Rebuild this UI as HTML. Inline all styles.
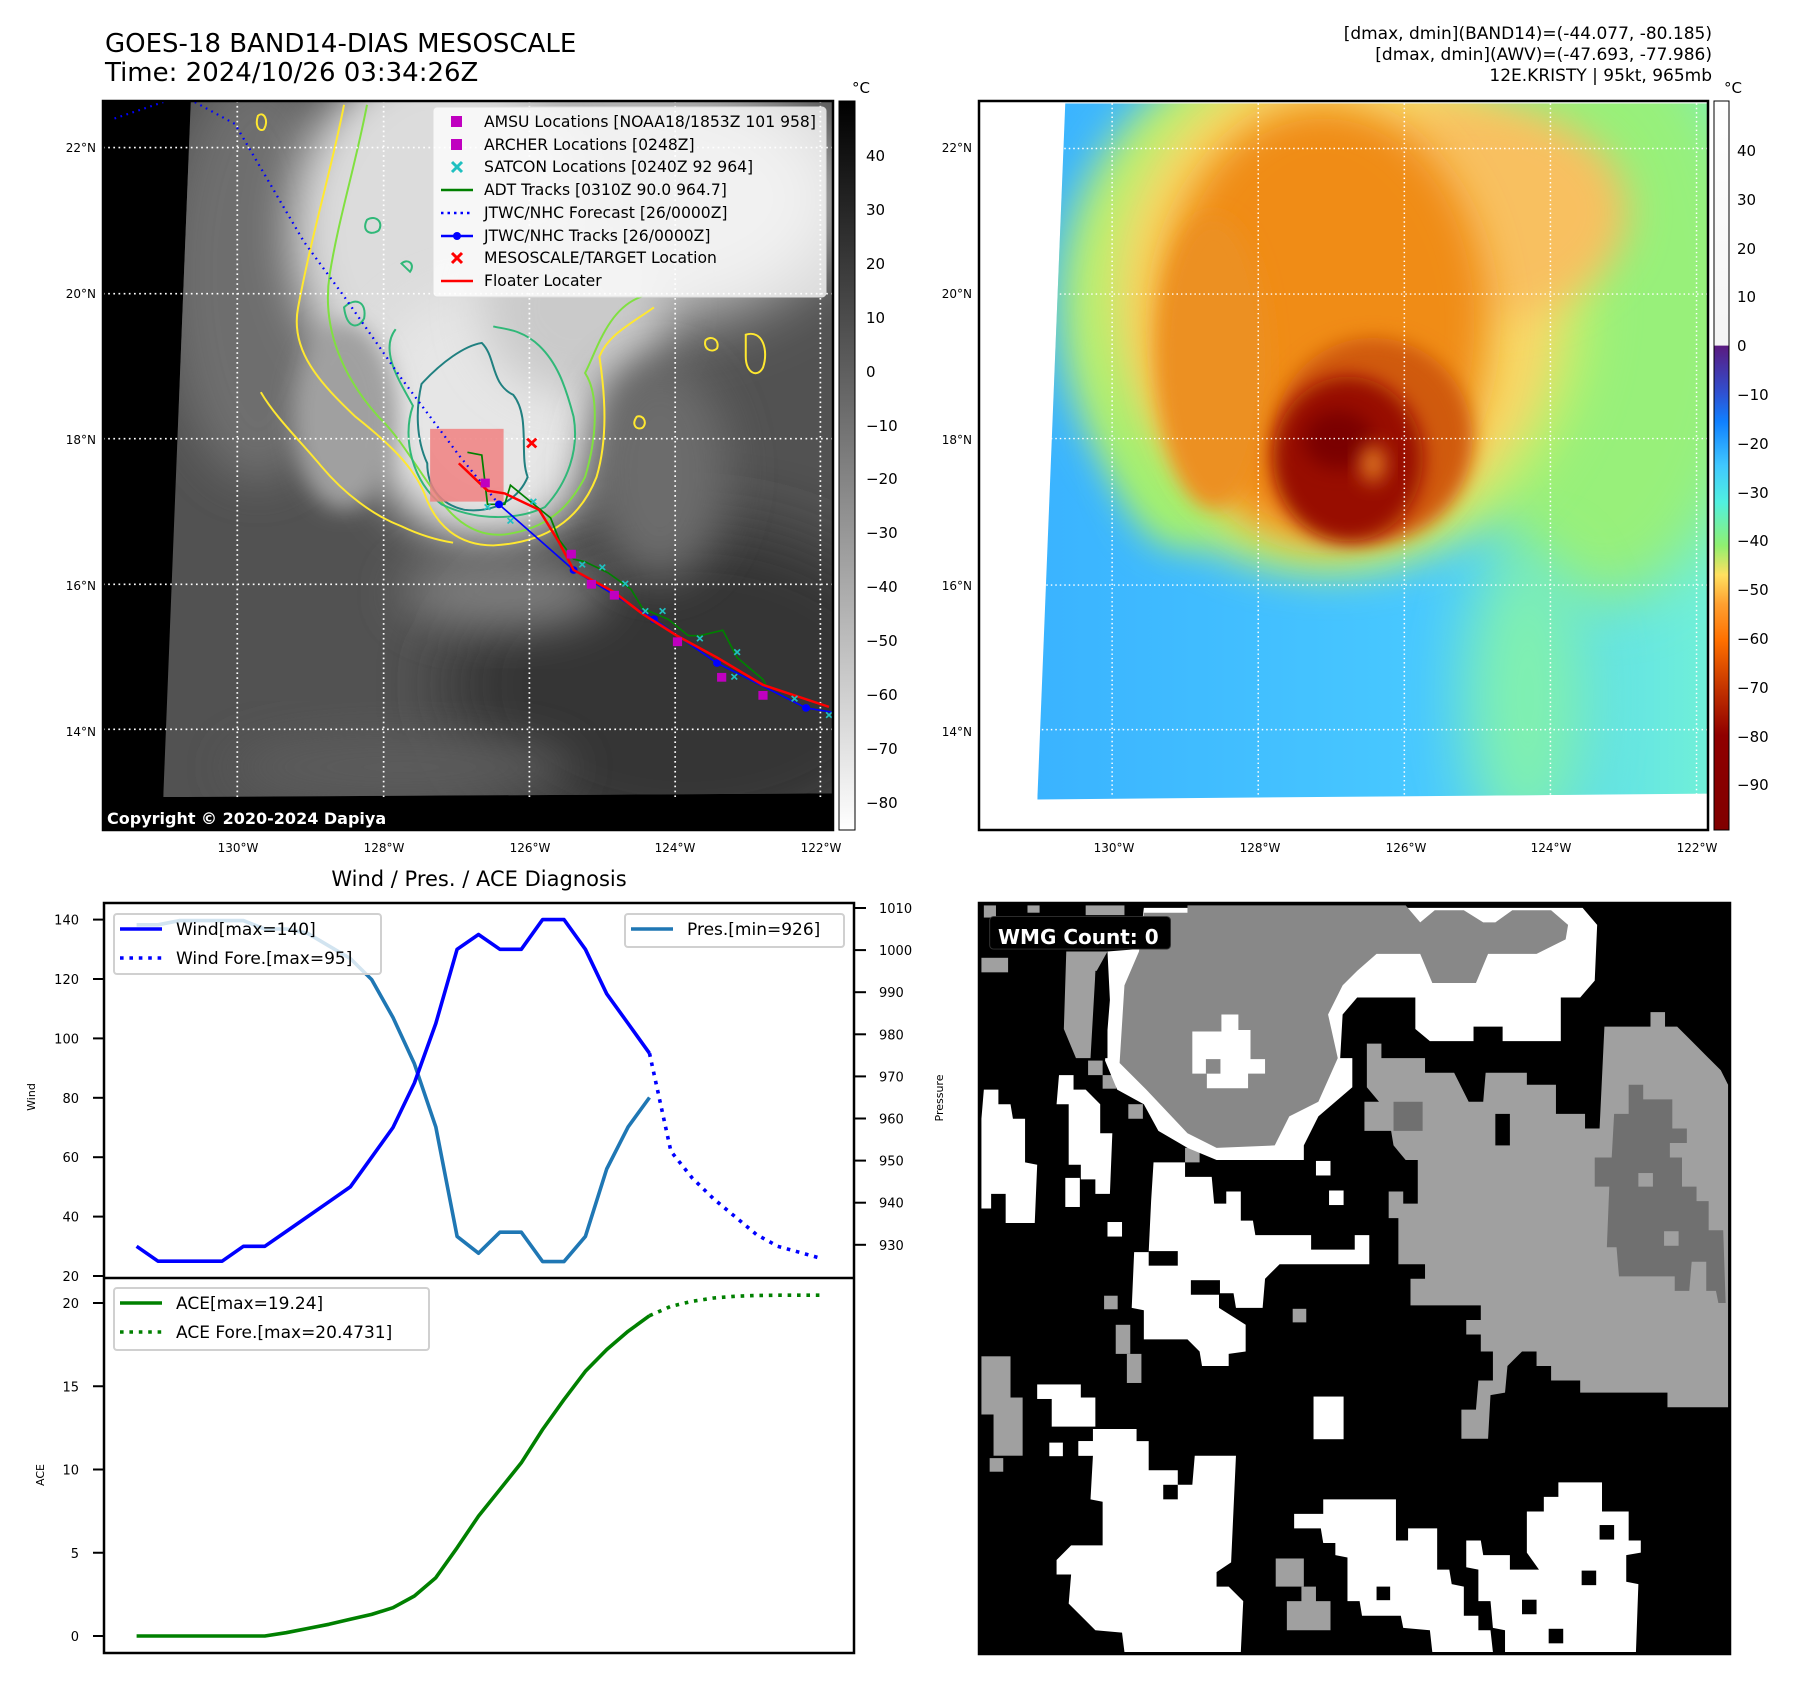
<!DOCTYPE html>
<html><head><meta charset="utf-8"><style>
html,body{margin:0;padding:0;background:#fff;}
svg text{font-family:"DejaVu Sans","Liberation Sans",sans-serif;}
</style></head><body>
<svg id="root" width="1797" height="1690" viewBox="0 0 1797 1690" xmlns="http://www.w3.org/2000/svg">
<defs>
<filter id="b20" x="-50%" y="-50%" width="200%" height="200%"><feGaussianBlur stdDeviation="20"/></filter>
<filter id="b40" x="-50%" y="-50%" width="200%" height="200%"><feGaussianBlur stdDeviation="40"/></filter>
<filter id="b60" x="-50%" y="-50%" width="200%" height="200%"><feGaussianBlur stdDeviation="60"/></filter>
<linearGradient id="gcb" x1="0" y1="0" x2="0" y2="1"><stop offset="0" stop-color="#000"/><stop offset="1" stop-color="#fff"/></linearGradient>
<linearGradient id="ccb" x1="0" y1="0" x2="0" y2="1">
<stop offset="0" stop-color="#fff"/><stop offset="0.335" stop-color="#f4f4f4"/>
<stop offset="0.336" stop-color="#5a1a80"/><stop offset="0.40" stop-color="#3050d0"/>
<stop offset="0.44" stop-color="#1080ff"/><stop offset="0.50" stop-color="#40c8ff"/>
<stop offset="0.55" stop-color="#50f0e0"/><stop offset="0.61" stop-color="#90f070"/>
<stop offset="0.65" stop-color="#ffe060"/><stop offset="0.69" stop-color="#ffa030"/>
<stop offset="0.74" stop-color="#ff7000"/><stop offset="0.81" stop-color="#c03000"/>
<stop offset="0.87" stop-color="#900000"/><stop offset="1" stop-color="#800000"/></linearGradient>
<linearGradient id="rbase" x1="0" y1="0" x2="1" y2="0"><stop offset="0" stop-color="#38b0ff"/><stop offset="0.6" stop-color="#48c8ff"/><stop offset="1" stop-color="#70f0d8"/></linearGradient>
</defs>

<text x="105" y="52" font-size="26" fill="#000">GOES-18 BAND14-DIAS MESOSCALE</text>
<text x="105" y="81" font-size="26" fill="#000">Time: 2024/10/26 03:34:26Z</text>
<g font-size="17" text-anchor="end" fill="#000">
<text x="1712" y="39">[dmax, dmin](BAND14)=(-44.077, -80.185)</text>
<text x="1712" y="60">[dmax, dmin](AWV)=(-47.693, -77.986)</text>
<text x="1712" y="81">12E.KRISTY | 95kt, 965mb</text>
</g>

<!-- LEFT MAP -->
<g>
<rect x="103" y="101" width="730" height="729" fill="#000"/>
<svg x="103" y="101" width="730" height="729" viewBox="180 183 1272 1332" preserveAspectRatio="none">
<clipPath id="lclip"><polygon points="333,183 285,1455 1452,1448 1452,183"/></clipPath>
<g clip-path="url(#lclip)">
<rect x="180" y="183" width="1272" height="1332" fill="#525252"/>
<ellipse cx="1200" cy="1250" rx="420" ry="300" fill="#363636" filter="url(#b60)"/>
<ellipse cx="450" cy="500" rx="160" ry="380" fill="#6e6e6e" filter="url(#b40)"/>
<ellipse cx="1050" cy="360" rx="420" ry="240" fill="#c0c0c0" filter="url(#b60)"/>
<ellipse cx="760" cy="420" rx="250" ry="320" fill="#dcdcdc" filter="url(#b40)"/>
<ellipse cx="850" cy="760" rx="210" ry="230" fill="#e6e6e6" filter="url(#b40)"/>
<ellipse cx="1000" cy="560" rx="160" ry="160" fill="#cacaca" filter="url(#b40)"/>
<ellipse cx="600" cy="760" rx="90" ry="170" fill="#a0a0a0" filter="url(#b20)"/>
<ellipse cx="880" cy="1080" rx="180" ry="70" fill="#7c7c7c" filter="url(#b40)"/>
<ellipse cx="1150" cy="860" rx="120" ry="200" fill="#6c6c6c" filter="url(#b40)"/>
<ellipse cx="700" cy="1400" rx="300" ry="60" fill="#5c5c5c" filter="url(#b40)"/>
</g>
<g fill="none" stroke-width="3.5">
<path d="M600,190 C580,300 545,420 520,560 C505,640 560,700 620,760 C680,810 720,850 740,900 C760,960 800,995 860,995 C950,990 1010,950 1040,870 C1060,800 1055,720 1045,650 C1060,610 1100,590 1140,560" stroke="#ffe830"/>
<path d="M455,715 C480,760 520,800 560,850 C600,900 650,940 700,960 C730,975 760,985 790,990" stroke="#ffe830"/>
<path d="M1300,610 C1330,600 1340,640 1330,670 C1320,690 1300,680 1300,650 Z M1230,620 c10,-10 25,0 20,15 c-10,10 -25,0 -20,-15Z M1110,760 c10,-5 20,10 10,20 c-10,5 -20,-5 -10,-20Z M450,210 c10,-10 20,10 10,25 c-10,5 -15,-10 -10,-25Z" stroke="#ffe830"/>
<path d="M640,190 C620,300 590,400 575,500 C560,600 600,690 660,760 C700,800 730,860 760,900 C790,950 830,980 880,975 C950,965 990,930 1020,870 C1040,800 1045,720 1020,680 C1040,640 1060,560 1120,540" stroke="#80e040"/>
<path d="M690,600 C660,640 700,700 720,740 C700,800 720,880 770,920 C830,950 900,950 950,925 C990,880 1010,820 1000,760 C985,700 970,660 940,630 C910,600 880,600 860,595" stroke="#30b878"/>
<path d="M735,700 C770,660 810,630 840,625 C865,650 855,700 895,720 C925,760 905,830 920,870 C900,920 850,935 810,930 C765,920 745,885 745,845 C725,800 725,745 735,700 Z" stroke="#208080"/>
<path d="M600,560 c20,-20 40,-10 35,20 c-10,20 -30,20 -35,-20Z M640,400 c15,-10 30,5 20,20 c-15,10 -30,0 -20,-20Z M700,480 c10,-10 25,0 15,15Z" stroke="#30b878"/>
</g>
<g stroke="#fff" stroke-width="3" stroke-dasharray="3,6">
<line x1="180" x2="1452" y1="268" y2="268"/><line x1="180" x2="1452" y1="535" y2="535"/><line x1="180" x2="1452" y1="800" y2="800"/><line x1="180" x2="1452" y1="1066" y2="1066"/><line x1="180" x2="1452" y1="1331" y2="1331"/>
<line y1="183" y2="1515" x1="414" x2="414"/><line y1="183" y2="1515" x1="669" x2="669"/><line y1="183" y2="1515" x1="923" x2="923"/><line y1="183" y2="1515" x1="1177" x2="1177"/><line y1="183" y2="1515" x1="1430" x2="1430"/>
</g>
<rect x="750" y="782" width="128" height="133" fill="#f08080" opacity="0.85"/>
<path d="M200,215 L285,185 M340,185 L410,225 L530,440 L600,540 L700,690 L800,830 L870,920" fill="none" stroke="#0000ff" stroke-width="4" stroke-dasharray="3,8"/>
<path d="M815,825 L840,830 L850,920 L880,920 L890,885 L960,945 L975,985 L1000,1020 L1020,1025 L1060,1045 L1100,1075 L1120,1110 L1165,1130 L1200,1160 L1220,1160 L1260,1150 L1285,1200 L1330,1240 L1340,1260" fill="none" stroke="#008000" stroke-width="3"/>
<path d="M870,920 L1000,1040 L1140,1130 L1250,1210 L1405,1292 L1452,1300" fill="none" stroke="#0000ff" stroke-width="3"/>
<g fill="#0000ff"><circle cx="870" cy="920" r="7"/><circle cx="1000" cy="1040" r="7"/><circle cx="1140" cy="1130" r="7"/><circle cx="1250" cy="1210" r="7"/><circle cx="1405" cy="1292" r="7"/></g>
<path d="M800,845 L850,895 L880,900 L940,930 L975,990 L1000,1040 L1070,1080 L1120,1120 L1180,1160 L1250,1200 L1330,1250 L1445,1290" fill="none" stroke="#ff0000" stroke-width="4.5"/>
<g fill="#c000c0"><rect x="838" y="873" width="16" height="16"/><rect x="988" y="1003" width="16" height="16"/><rect x="1023" y="1058" width="16" height="16"/><rect x="1063" y="1078" width="16" height="16"/><rect x="1173" y="1163" width="16" height="16"/><rect x="1250" y="1228" width="16" height="16"/><rect x="1322" y="1261" width="16" height="16"/></g>
<g stroke="#20c0c0" stroke-width="3">
<path d="M845,920 l10,10 m0,-10 l-10,10 M885,945 l10,10 m0,-10 l-10,10 M925,910 l10,10 m0,-10 l-10,10 M1010,1025 l10,10 m0,-10 l-10,10 M1045,1030 l10,10 m0,-10 l-10,10 M1085,1060 l10,10 m0,-10 l-10,10 M1120,1110 l10,10 m0,-10 l-10,10 M1150,1110 l10,10 m0,-10 l-10,10 M1215,1160 l10,10 m0,-10 l-10,10 M1275,1230 l10,10 m0,-10 l-10,10 M1280,1185 l10,10 m0,-10 l-10,10 M1380,1270 l10,10 m0,-10 l-10,10 M1440,1300 l10,10 m0,-10 l-10,10"/>
</g>
<path d="M919,800 l16,16 m0,-16 l-16,16" stroke="#ff0000" stroke-width="5"/>
<rect x="180" y="1455" width="1272" height="60" fill="#000"/>
</svg>
<text x="107" y="824" font-size="16" font-weight="bold" fill="#fff">Copyright © 2020-2024 Dapiya</text>
<rect x="103" y="101" width="730" height="729" fill="none" stroke="#000" stroke-width="2.5"/>
<g>
<rect x="433" y="107" width="393" height="190" rx="4" fill="#fff" fill-opacity="0.78" stroke="#ddd"/>
<g font-size="15.6" fill="#000">
<rect x="451" y="116" width="11" height="11" fill="#c000c0"/><text x="484" y="127">AMSU Locations [NOAA18/1853Z 101 958]</text>
<rect x="451" y="139" width="11" height="11" fill="#c000c0"/><text x="484" y="150">ARCHER Locations [0248Z]</text>
<path d="M452,162 l10,10 m0,-10 l-10,10" stroke="#20c0c0" stroke-width="3"/><text x="484" y="172">SATCON Locations [0240Z 92 964]</text>
<line x1="441" x2="473" y1="190" y2="190" stroke="#008000" stroke-width="2.5"/><text x="484" y="195">ADT Tracks [0310Z 90.0 964.7]</text>
<line x1="441" x2="473" y1="213" y2="213" stroke="#0000ff" stroke-width="2.5" stroke-dasharray="2.5,4"/><text x="484" y="218">JTWC/NHC Forecast [26/0000Z]</text>
<line x1="441" x2="473" y1="236" y2="236" stroke="#0000ff" stroke-width="2.5"/><circle cx="457" cy="236" r="4" fill="#0000ff"/><text x="484" y="241">JTWC/NHC Tracks [26/0000Z]</text>
<path d="M452,253 l10,10 m0,-10 l-10,10" stroke="#ff0000" stroke-width="3"/><text x="484" y="263">MESOSCALE/TARGET Location</text>
<line x1="441" x2="473" y1="281" y2="281" stroke="#ff0000" stroke-width="2.5"/><text x="484" y="286">Floater Locater</text>
</g></g>
<g font-size="12" fill="#000" text-anchor="end">
<text x="96" y="152">22°N</text><text x="96" y="298">20°N</text><text x="96" y="444">18°N</text><text x="96" y="590">16°N</text><text x="96" y="736">14°N</text></g>
<g font-size="12" fill="#000" text-anchor="middle">
<text x="238" y="852">130°W</text><text x="384" y="852">128°W</text><text x="530" y="852">126°W</text><text x="675" y="852">124°W</text><text x="821" y="852">122°W</text></g>
<rect x="839" y="101" width="16" height="729" fill="url(#gcb)" stroke="#000" stroke-width="1"/>
<text x="852" y="93" font-size="15">°C</text>
<g font-size="15" fill="#000">
<text x="866" y="161">40</text><text x="866" y="215">30</text><text x="866" y="269">20</text><text x="866" y="323">10</text><text x="866" y="377">0</text><text x="866" y="431">−10</text><text x="866" y="484">−20</text><text x="866" y="538">−30</text><text x="866" y="592">−40</text><text x="866" y="646">−50</text><text x="866" y="700">−60</text><text x="866" y="754">−70</text><text x="866" y="808">−80</text></g>
</g>

<!-- RIGHT MAP -->
<g>
<rect x="979" y="101" width="729" height="729" fill="#fff"/>
<svg x="979" y="101" width="729" height="729" viewBox="0 22 1462 1503" preserveAspectRatio="none">
<clipPath id="rclip"><polygon points="173,27 117,1462 1462,1450 1462,27"/></clipPath>
<g clip-path="url(#rclip)">
<rect x="0" y="0" width="1462" height="1525" fill="url(#rbase)"/>
<ellipse cx="1250" cy="450" rx="320" ry="600" fill="#98f07a" filter="url(#b60)"/>
<ellipse cx="1100" cy="1250" rx="120" ry="300" fill="#80f0b0" filter="url(#b60)"/>
<ellipse cx="700" cy="440" rx="540" ry="560" fill="#b8f070" filter="url(#b40)"/>
<ellipse cx="400" cy="620" rx="140" ry="320" fill="#a0f070" filter="url(#b40)"/>
<ellipse cx="720" cy="430" rx="450" ry="490" fill="#f8d868" filter="url(#b40)"/>
<ellipse cx="1000" cy="250" rx="300" ry="220" fill="#f8c060" filter="url(#b40)"/>
<ellipse cx="690" cy="480" rx="330" ry="450" fill="#f08c18" filter="url(#b40)"/>
<ellipse cx="470" cy="560" rx="110" ry="300" fill="#ec9020" filter="url(#b20)"/>
<ellipse cx="790" cy="720" rx="200" ry="210" fill="#d05a08" filter="url(#b20)"/>
<ellipse cx="740" cy="760" rx="150" ry="170" fill="#980c00" filter="url(#b20)"/>
<ellipse cx="720" cy="720" rx="70" ry="60" fill="#7a0000" filter="url(#b20)"/>
<ellipse cx="790" cy="770" rx="25" ry="40" fill="#e07820" filter="url(#b20)"/>
</g>
<g stroke="#fff" stroke-width="3" stroke-dasharray="3,6">
<line x1="117" x2="1462" y1="120" y2="120"/><line x1="117" x2="1462" y1="420" y2="420"/><line x1="117" x2="1462" y1="718" y2="718"/><line x1="117" x2="1462" y1="1020" y2="1020"/><line x1="117" x2="1462" y1="1318" y2="1318"/>
<line y1="27" y2="1455" x1="267" x2="267"/><line y1="27" y2="1455" x1="560" x2="560"/><line y1="27" y2="1455" x1="853" x2="853"/><line y1="27" y2="1455" x1="1146" x2="1146"/><line y1="27" y2="1455" x1="1439" x2="1439"/>
</g>
</svg>
<rect x="979" y="101" width="729" height="729" fill="none" stroke="#000" stroke-width="2.5"/>
<g font-size="12" fill="#000" text-anchor="end">
<text x="972" y="152">22°N</text><text x="972" y="298">20°N</text><text x="972" y="444">18°N</text><text x="972" y="590">16°N</text><text x="972" y="736">14°N</text></g>
<g font-size="12" fill="#000" text-anchor="middle">
<text x="1114" y="852">130°W</text><text x="1260" y="852">128°W</text><text x="1406" y="852">126°W</text><text x="1551" y="852">124°W</text><text x="1697" y="852">122°W</text></g>
<rect x="1714" y="101" width="15" height="729" fill="url(#ccb)" stroke="#000" stroke-width="1"/>
<text x="1724" y="93" font-size="15">°C</text>
<g font-size="15" fill="#000">
<text x="1737" y="156">40</text><text x="1737" y="205">30</text><text x="1737" y="254">20</text><text x="1737" y="302">10</text><text x="1737" y="351">0</text><text x="1737" y="400">−10</text><text x="1737" y="449">−20</text><text x="1737" y="498">−30</text><text x="1737" y="546">−40</text><text x="1737" y="595">−50</text><text x="1737" y="644">−60</text><text x="1737" y="693">−70</text><text x="1737" y="742">−80</text><text x="1737" y="790">−90</text></g>
</g>

<!-- WMG PANEL -->
<g>
<svg x="979" y="903" width="751" height="751" viewBox="0 0 1549 1549" preserveAspectRatio="none">
<rect x="0" y="0" width="1549" height="1549" fill="#000"/>
<g fill="#a0a0a0">
<polygon points="800,290 830,290 830,320 920,320 920,350 980,350 1010,410 1040,410 1045,350 1130,350 1130,375 1190,375 1190,435 1250,435 1250,465 1280,465 1290,255 1385,255 1385,225 1415,225 1415,255 1440,255 1470,285 1500,315 1530,345 1545,375 1545,1040 1420,1040 1420,1010 1240,1010 1240,985 1180,985 1180,955 1150,955 1150,925 1120,925 1090,955 1085,1010 1055,1015 1050,1105 995,1105 995,1045 1025,1045 1030,985 1060,985 1060,925 1035,925 1035,890 1005,890 1005,860 1035,860 1035,830 890,830 890,775 920,775 920,745 865,745 865,650 845,650 845,595 875,595 875,620 905,620 905,530 880,530 855,500 850,470 795,470 795,410 825,410 800,380"/>
<polygon points="180,100 265,100 240,145 230,320 200,320 175,260"/>
<rect x="612" y="1352" width="58" height="58"/><rect x="665" y="1410" width="30" height="32"/><rect x="635" y="1440" width="90" height="60"/>
<rect x="258" y="810" width="28" height="28"/><rect x="647" y="837" width="28" height="28"/><rect x="282" y="870" width="30" height="60"/><rect x="305" y="930" width="30" height="60"/>
<rect x="5" y="935" width="60" height="120"/><rect x="30" y="1020" width="60" height="120"/><rect x="22" y="1145" width="28" height="28"/>
<rect x="425" y="505" width="30" height="30"/><rect x="308" y="415" width="30" height="30"/><rect x="255" y="355" width="28" height="28"/><rect x="225" y="325" width="30" height="30"/>
<rect x="5" y="113" width="55" height="30"/><rect x="10" y="5" width="25" height="25"/><rect x="100" y="5" width="25" height="15"/><rect x="220" y="5" width="80" height="20"/>
</g>
<rect x="1065" y="435" width="30" height="65" fill="#000"/>
<g fill="#707070">
<polygon points="1340,375 1370,375 1370,405 1430,405 1430,465 1460,465 1460,495 1425,495 1425,525 1450,525 1450,585 1480,585 1480,615 1505,615 1505,675 1535,675 1540,825 1525,825 1520,800 1500,800 1500,740 1470,740 1465,800 1435,800 1435,770 1320,770 1315,710 1295,710 1300,585 1270,585 1270,525 1305,525 1310,435 1340,435"/>
<rect x="855" y="410" width="60" height="60"/></g>
<rect x="1360" y="557" width="30" height="28" fill="#a0a0a0"/><rect x="1413" y="677" width="30" height="30" fill="#a0a0a0"/>
<g fill="#fff">
<polygon points="265,100 330,95 340,10 1245,10 1275,45 1270,160 1240,195 1200,195 1200,285 1080,285 1080,255 1020,255 1020,285 930,285 900,260 900,195 780,195 750,230 745,320 770,320 770,380 700,440 670,500 670,530 490,530 430,505 370,470 340,415 285,385 260,325 270,200"/>
</g>
<polygon fill="#888" points="330,100 340,20 430,20 430,5 850,5 880,5 910,40 940,15 1000,15 1040,40 1065,40 1100,15 1180,15 1215,45 1210,75 1150,105 1050,105 1025,165 935,165 910,105 820,105 780,140 750,170 720,230 740,320 700,410 640,440 610,500 490,505 430,475 345,385 290,330 300,170"/>
<rect x="240" y="140" width="25" height="180" fill="#000"/>
<polygon fill="#fff" points="500,230 535,230 535,262 560,262 560,322 590,322 590,352 555,352 555,382 470,382 470,352 440,352 440,265 500,265"/>
<rect x="468" y="322" width="30" height="30" fill="#888"/>
<g fill="#fff">
<polygon points="10,385 40,385 40,415 65,415 70,445 95,445 95,535 120,540 115,660 55,660 55,600 25,600 25,630 5,630 5,445"/>
<polygon points="165,355 195,355 195,385 220,385 250,415 250,475 275,475 270,600 240,600 240,570 210,570 210,540 185,540 185,415 160,415"/>
<rect x="178" y="567" width="30" height="60"/>
<polygon points="360,535 425,535 425,565 480,565 485,620 510,620 510,595 540,595 540,655 565,655 570,685 685,685 685,715 775,715 775,685 805,685 805,745 620,745 590,775 585,835 530,835 525,805 495,805 495,835 550,870 550,925 515,930 515,955 460,955 455,925 430,900 340,900 340,840 315,835 320,720 350,720 355,615"/>
<rect x="265" y="658" width="30" height="30"/><rect x="695" y="532" width="30" height="30"/><rect x="722" y="593" width="30" height="30"/>
<rect x="690" y="1018" width="62" height="88"/><rect x="120" y="993" width="90" height="30"/><rect x="150" y="1020" width="90" height="60"/><rect x="145" y="1113" width="28" height="28"/><rect x="205" y="1110" width="30" height="30"/>
<polygon points="235,1085 325,1085 325,1110 350,1110 350,1170 410,1170 410,1200 440,1200 445,1140 530,1140 520,1360 490,1380 490,1410 515,1410 545,1440 540,1545 300,1545 295,1505 240,1500 215,1475 185,1445 190,1385 160,1385 160,1355 190,1325 255,1325 255,1235 230,1230 235,1140 205,1140 205,1110 235,1110"/>
<polygon points="710,1230 860,1230 860,1315 885,1315 885,1290 945,1290 945,1375 970,1375 975,1405 1000,1410 1000,1470 1030,1470 1030,1500 1055,1500 1060,1545 935,1545 930,1500 875,1495 870,1470 790,1470 785,1440 760,1440 760,1350 735,1345 735,1320 710,1320 705,1290 650,1290 650,1260 710,1260"/>
<polygon points="1195,1195 1285,1195 1285,1255 1340,1255 1340,1315 1365,1315 1365,1340 1335,1345 1335,1400 1360,1405 1355,1545 1085,1545 1085,1500 1060,1495 1055,1440 1030,1440 1030,1375 1005,1370 1005,1315 1035,1315 1040,1345 1095,1345 1095,1375 1155,1375 1130,1340 1130,1255 1165,1255 1165,1225 1195,1225"/>
</g>
<g fill="#000"><rect x="350" y="718" width="60" height="30"/><rect x="437" y="778" width="60" height="30"/><rect x="380" y="1200" width="30" height="30"/><rect x="1280" y="1283" width="30" height="30"/><rect x="1243" y="1377" width="30" height="30"/><rect x="1120" y="1437" width="30" height="30"/><rect x="1175" y="1497" width="30" height="30"/><rect x="820" y="1410" width="28" height="28"/></g>
<rect x="22" y="28" width="373" height="67" rx="8" fill="#000" stroke="#333" stroke-width="2"/>
</svg>
<text x="998" y="944" font-size="20" font-weight="bold" fill="#fff">WMG Count: 0</text>
<rect x="979" y="903" width="751" height="751" fill="none" stroke="#000" stroke-width="2.5"/>
</g>

<text x="479" y="886" font-size="21" text-anchor="middle">Wind / Pres. / ACE Diagnosis</text>
<g id="chart"></g>
</svg>
<script>
const steps = [0,1,2,3,4,5,6,7,8,9,10,11,12,13,14,15,16,17,18,19,20,21,22,23,24];
const windValues = [30,25,25,25,25,30,30,35,40,45,50,60,70,85,105,130,135,130,130,140,140,130,115,105,95];
const presValues = [1006,1006,1007,1007,1007,1007,1005,1005,1004,1001,998,993,984,973,958,932,928,933,933,926,926,932,948,958,965];
const aceValues = [0,0,0,0,0,0,0,0.2,0.45,0.7,1.0,1.3,1.7,2.4,3.5,5.3,7.2,8.8,10.4,12.4,14.2,15.9,17.2,18.3,19.24];
const foreSteps = [24,25,26,27,28,29,30,31,32];
const windFore = [95,62,53,46,40,34,30,28,26];
const aceFore = [19.24,19.8,20.1,20.3,20.4,20.45,20.47,20.47,20.47];
const windTicks = [20,40,60,80,100,120,140];
const presTicks = [930,940,950,960,970,980,990,1000,1010];
const aceTicks = [0,5,10,15,20];

const NS = 'http://www.w3.org/2000/svg';
const g = document.getElementById('chart');
const X0 = 104, X1 = 854, T = 903, MID = 1278, B = 1653;
const xS = k => 136.6 + 21.37 * k;
const yW = v => 1276 - (v - 20) * 2.97;
const yP = v => 908 + (1010 - v) * 4.21;
const yA = v => 1636 - v * 16.65;
function el(tag, attrs, parent) {
  const e = document.createElementNS(NS, tag);
  for (const k in attrs) e.setAttribute(k, attrs[k]);
  (parent || g).appendChild(e);
  return e;
}
function txt(x, y, s, size, anchor) {
  const t = el('text', {x: x, y: y, 'font-size': size, 'text-anchor': anchor || 'start', fill: '#000'});
  t.textContent = s;
  return t;
}
function poly(xs, ys, color, dash) {
  const pts = xs.map((x, i) => x.toFixed(1) + ',' + ys[i].toFixed(1)).join(' ');
  const a = {points: pts, fill: 'none', stroke: color, 'stroke-width': 3.6, 'stroke-linejoin': 'round'};
  if (dash) a['stroke-dasharray'] = '3.6,5.8';
  return el('polyline', a);
}
const f1 = el('rect', {x: X0, y: T, width: X1 - X0, height: MID - T, fill: '#fff', stroke: 'none'});


windTicks.forEach(v => {
  const l = el('line', {x1: 93, x2: X0, y1: yW(v), y2: yW(v), stroke: '#000', 'stroke-width': 2});
  
  
  const t = txt(79, yW(v) + 5, String(v), 13, 'end');
  
  
});
presTicks.forEach(v => {
  const l = el('line', {x1: X1, x2: 866, y1: yP(v), y2: yP(v), stroke: '#000', 'stroke-width': 2});
  
  
  const t = txt(879, yP(v) + 5, String(v), 13, 'start');
  
  
});
aceTicks.forEach(v => {
  const l = el('line', {x1: 93, x2: X0, y1: yA(v), y2: yA(v), stroke: '#000', 'stroke-width': 2});
  
  
  const t = txt(79, yA(v) + 5, String(v), 13, 'end');
  
  
});
const yl1 = txt(0, 0, 'Wind', 11, 'middle');
yl1.setAttribute('transform', 'translate(35,1097) rotate(-90)');


const yl2 = txt(0, 0, 'Pressure', 11, 'middle');
yl2.setAttribute('transform', 'translate(943,1098) rotate(-90)');


const yl3 = txt(0, 0, 'ACE', 11, 'middle');
yl3.setAttribute('transform', 'translate(44,1475) rotate(-90)');


const pl = poly(steps.map(xS), presValues.map(yP), '#1f77b4');


const wl = poly(steps.map(xS), windValues.map(yW), '#0000ff');


const wf = poly(foreSteps.map(xS), windFore.map(yW), '#0000ff', true);


const al = poly(steps.map(xS), aceValues.map(yA), '#008000');


const af = poly(foreSteps.map(xS), aceFore.map(yA), '#008000', true);


function legend(x, y, w, h, items, name) {
  const lg = el('g', {});
  
  
  el('rect', {x: x, y: y, width: w, height: h, rx: 3, fill: '#fff', 'fill-opacity': 0.8, stroke: '#d0d0d0', 'stroke-width': 2}, lg);
  items.forEach((it, i) => {
    const cy = y + 15 + i * 29;
    const a = {x1: x + 6, x2: x + 48, y1: cy, y2: cy, stroke: it[1], 'stroke-width': 3.6};
    if (it[2]) a['stroke-dasharray'] = '3.6,5.8';
    el('line', a, lg);
    const t = el('text', {x: x + 62, y: cy + 6, 'font-size': 17, fill: '#000'}, lg);
    t.textContent = it[0];
  });
}
legend(114, 914, 267, 60, [['Wind[max=140]', '#0000ff'], ['Wind Fore.[max=95]', '#0000ff', 1]], 'wind-legend');
legend(625, 914, 219, 33, [['Pres.[min=926]', '#1f77b4']], 'pressure-legend');
legend(114, 1288, 315, 62, [['ACE[max=19.24]', '#008000'], ['ACE Fore.[max=20.4731]', '#008000', 1]], 'ace-legend');
const fr = el('rect', {x: X0, y: T, width: X1 - X0, height: B - T, fill: 'none', stroke: '#000', 'stroke-width': 2.5});


const dv = el('line', {x1: X0, x2: X1, y1: MID, y2: MID, stroke: '#000', 'stroke-width': 2.5});


</script>
</body></html>
